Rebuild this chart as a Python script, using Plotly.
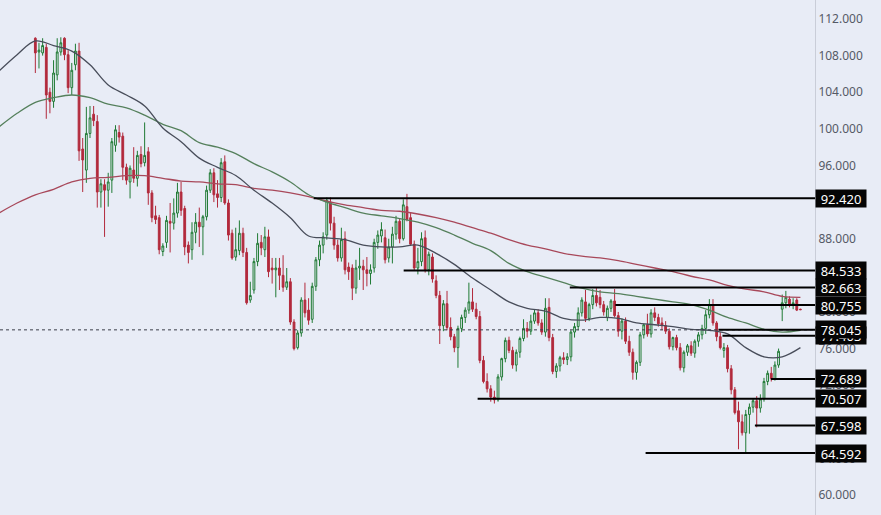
import plotly.graph_objects as go

# ---------------- candle data (price values) ----------------
opens = [109.9,108.4,108.3,108.9,104.0,103.0,105.9,108.4,109.9,108.1,104.5,107.0,108.5,97.8,95.5,99.5,101.6,100.8,93.1,93.9,
         93.3,94.4,98.2,99.6,99.2,95.8,94.2,95.5,94.6,97.2,96.3,97.5,93.0,90.5,90.3,86.6,87.6,89.9,89.7,90.8,
         93.1,91.3,87.3,86.8,88.7,89.8,89.3,90.4,93.3,95.2,92.9,92.5,96.4,91.9,88.6,86.0,86.7,88.6,86.5,81.3,
         82.4,85.5,87.6,86.8,88.2,84.8,84.6,84.8,84.0,82.7,83.3,78.9,76.1,77.7,81.3,80.2,79.2,82.8,85.7,87.3,
         88.4,92.0,89.7,87.3,85.9,88.0,84.9,84.8,82.6,84.8,85.0,84.6,84.2,84.8,87.6,88.3,88.1,85.9,87.1,88.5,
         89.9,88.0,91.5,90.3,87.4,84.8,85.5,88.1,84.6,86.0,83.4,81.8,78.5,80.9,78.3,77.3,76.1,78.2,79.4,80.2,
         81.1,80.3,79.5,74.7,72.4,71.6,70.7,70.4,72.9,74.9,76.9,75.8,74.2,75.6,77.1,78.2,77.9,79.0,79.9,78.8,
         77.8,80.5,77.2,73.5,74.1,75.0,74.8,75.1,77.8,78.4,79.9,81.1,79.3,80.8,81.8,81.6,80.8,79.4,80.4,81.2,
         79.6,77.9,79.0,76.8,75.6,73.4,74.5,77.5,78.6,77.6,79.9,79.4,78.8,78.5,77.9,76.2,77.2,76.1,73.9,75.6,
         76.3,75.5,76.8,77.5,78.2,79.7,80.8,78.8,77.3,75.8,76.1,73.8,71.5,69.2,68.0,66.8,68.8,69.6,70.3,69.5,
         70.5,72.4,73.3,72.7,74.2,80.3,81.0,81.4,80.8,81.3,80.3]
highs = [110.0,109.4,109.9,109.3,104.5,107.5,109.9,110.0,110.0,108.6,107.2,109.3,109.4,99.0,102.4,102.5,102.5,101.5,94.5,94.5,
         95.2,99.0,100.4,100.4,99.6,96.2,96.0,98.0,97.6,98.1,100.7,98.0,93.3,91.6,90.6,87.5,90.5,91.9,92.4,94.1,
         94.2,91.6,87.7,89.8,90.8,91.4,90.6,93.8,95.6,95.7,94.4,96.8,97.1,92.3,89.0,89.2,90.0,89.2,87.0,83.3,
         85.9,88.6,88.4,89.3,89.0,85.9,85.9,85.9,86.2,84.8,83.7,79.2,78.0,81.6,83.2,81.5,83.2,86.0,87.8,88.7,
         92.5,92.5,90.4,87.9,89.2,88.8,85.4,85.2,85.7,87.0,85.7,86.0,85.2,88.0,88.9,89.8,89.0,88.0,89.3,90.5,
         90.2,92.3,92.9,90.8,87.8,87.0,88.7,88.9,86.6,86.4,84.0,82.3,81.3,82.3,79.4,77.6,78.5,79.7,80.5,83.2,
         82.6,81.0,80.1,75.2,73.3,72.0,71.4,73.2,75.0,77.2,77.3,76.2,75.9,77.3,79.2,78.9,79.7,80.3,80.3,79.2,
         81.5,81.5,77.6,74.4,75.2,75.6,75.5,78.0,78.8,80.5,81.6,82.4,81.0,82.5,82.6,82.4,81.2,80.7,81.4,82.5,
         80.0,79.3,79.4,77.4,76.0,74.7,77.8,78.7,79.8,80.3,80.5,79.8,79.4,79.0,78.2,77.3,77.5,76.6,75.8,76.5,
         76.8,77.0,77.8,78.6,80.2,81.4,81.4,79.0,77.8,76.6,76.4,74.2,71.8,70.2,68.8,69.3,70.0,70.6,70.8,71.0,
         72.8,73.6,74.0,74.6,76.0,81.9,82.3,81.7,81.5,81.5,80.35]
lows = [106.1,106.6,108.0,101.1,101.7,102.3,105.3,108.0,107.5,103.9,103.7,106.4,96.5,93.1,94.1,99.0,100.3,91.4,91.4,88.2,
        91.5,93.0,97.5,98.5,94.4,93.9,92.4,94.1,93.7,95.8,95.9,91.7,89.8,89.6,86.3,86.1,87.0,86.5,89.0,90.3,
        90.5,86.2,85.3,85.7,87.5,87.1,86.2,90.0,93.0,92.0,91.4,92.0,91.7,87.8,85.7,85.6,86.2,86.0,80.8,81.0,
        82.0,85.0,86.2,86.0,83.8,83.1,81.6,82.4,82.2,82.4,78.6,75.8,75.9,77.3,79.4,78.6,78.8,82.3,85.0,86.4,
        87.9,88.9,86.8,85.5,85.5,84.1,83.5,81.3,82.0,83.5,82.4,82.8,83.0,84.3,86.9,87.6,85.3,85.4,85.3,87.9,
        87.5,87.8,89.9,87.2,84.5,84.1,85.0,84.3,84.0,83.2,81.5,76.5,77.9,78.0,76.9,75.6,73.9,77.8,78.8,79.8,
        80.0,79.2,74.4,72.2,71.2,70.2,70.0,70.2,72.5,74.5,75.5,73.8,73.5,75.0,76.8,77.2,77.5,78.7,78.5,77.5,
        77.3,76.8,73.2,72.8,73.5,74.3,74.2,74.6,77.2,78.0,79.5,78.9,79.0,80.3,80.6,80.4,79.6,79.0,80.0,79.4,
        77.3,77.0,76.5,75.2,72.6,72.6,74.1,77.1,77.3,77.2,79.0,78.4,78.0,77.6,75.9,75.8,75.8,73.6,73.4,75.2,
        75.2,75.0,76.2,77.0,77.6,79.3,78.5,76.8,75.9,75.0,73.4,71.0,68.8,65.0,66.5,64.6,66.7,69.0,67.4,69.0,
        70.2,72.0,72.4,72.5,73.9,79.0,80.4,80.5,80.3,80.1,80.2]
closes = [108.3,108.6,109.1,103.7,103.0,106.1,108.4,109.4,108.1,104.5,106.4,108.5,97.6,96.6,99.5,101.2,100.9,93.1,94.0,93.3,
          94.2,98.6,99.9,99.1,95.8,94.4,95.7,94.6,97.1,96.2,97.1,93.0,90.3,90.1,86.8,87.2,90.0,89.7,90.8,93.1,
          91.1,87.1,86.5,88.7,89.8,89.3,90.4,93.3,95.2,92.8,92.5,96.3,91.9,88.4,85.9,86.8,88.6,86.5,81.0,81.8,
          85.5,87.5,87.0,88.2,84.4,84.6,84.8,84.0,82.7,83.3,78.9,76.0,77.7,81.3,79.9,79.1,82.8,85.7,87.3,88.2,
          92.2,89.7,87.3,85.9,87.9,84.6,84.4,82.6,84.8,85.0,84.6,84.2,84.6,87.6,88.4,89.0,85.7,87.1,88.5,89.9,
          88.0,91.7,90.1,87.4,84.8,85.5,88.0,84.6,86.3,83.6,81.8,78.5,80.9,78.3,77.3,76.1,78.2,79.4,80.2,81.1,
          80.3,79.5,74.7,72.4,71.6,70.7,70.4,72.9,74.9,76.9,75.8,74.2,75.6,77.1,78.2,77.9,79.0,79.9,78.8,77.8,
          80.4,77.2,73.5,74.1,75.0,74.8,75.1,77.8,78.4,79.9,81.3,79.3,80.8,81.8,81.0,80.8,80.0,80.4,81.2,79.6,
          77.9,79.0,76.8,75.6,73.4,74.5,77.5,78.6,77.6,79.9,79.4,78.7,78.5,77.9,76.2,77.2,76.1,73.9,75.6,76.3,
          75.5,76.8,77.5,78.2,79.7,80.8,78.8,77.3,76.1,76.1,73.8,71.5,69.0,68.0,66.8,68.8,69.6,70.3,69.5,70.5,
          72.4,73.3,72.7,74.2,75.7,81.0,81.6,80.7,81.0,80.2,80.25]

# ---------------- moving averages (values read at every 5th bar) ----------------
ma_bars = list(range(-10, 211, 5))
ma_fast = [106.3,108.1,109.6,109.1,108.5,107.0,104.8,103.7,102.5,100.1,98.6,96.8,95.8,94.9,93.3,91.9,90.3,88.3,88.1,87.9,
           87.3,87.1,87.1,87.3,86.4,85.2,83.7,82.4,81.1,80.4,80.1,79.3,79.1,79.4,79.3,78.8,78.6,78.4,78.1,78.0,
           77.6,76.1,75.1,75.1,76.1]
ma_mid = [100.2,101.7,102.9,103.4,103.7,103.4,102.7,102.3,101.5,100.5,99.8,98.5,98.0,97.3,96.2,95.3,94.2,92.8,92.0,91.4,
          90.8,90.5,90.2,89.8,89.2,88.4,87.5,86.7,85.3,84.4,83.8,83.2,82.6,82.2,82.0,81.7,81.4,81.1,80.8,80.2,
          79.4,78.8,78.1,77.8,78.0]
ma_slow = [90.8,91.9,92.8,93.4,94.2,94.6,94.7,94.9,94.9,94.6,94.3,94.2,94.0,93.9,93.5,93.3,93.0,92.6,92.1,91.7,
           91.4,91.1,91.0,90.7,90.3,89.8,89.2,88.6,87.9,87.3,86.9,86.4,86.1,85.9,85.6,85.2,84.8,84.4,83.9,83.5,
           82.9,82.5,82.2,81.7,81.6]

# ---------------- horizontal levels ----------------
level_values = [92.420, 84.533, 82.663, 80.755, 78.045, 77.403, 72.689, 70.507, 67.598, 64.592]
level_start_bar = [76.4, 101.1, 146.7, 159.2, 187.5, 188.6, 201.9, 121.4, 197.5, 167.5]
last_price = 78.045
tick_values = list(range(60, 113, 4))

BG = "#e8ecf6"
X_MIN, X_MAX = -9.7, 214.0
Y_MIN, Y_MAX = 57.82, 114.076

fig = go.Figure()
fig.add_trace(go.Scatter(x=ma_bars, y=ma_slow, mode="lines", line=dict(color="#a8485a", width=1.3, shape="spline"), hoverinfo="skip"))
fig.add_trace(go.Scatter(x=ma_bars, y=ma_mid, mode="lines", line=dict(color="#55805c", width=1.3, shape="spline"), hoverinfo="skip"))
fig.add_trace(go.Scatter(x=ma_bars, y=ma_fast, mode="lines", line=dict(color="#484d5a", width=1.3, shape="spline"), hoverinfo="skip"))

fig.add_trace(go.Candlestick(
    x=list(range(len(closes))), open=opens, high=highs, low=lows, close=closes,
    increasing=dict(line=dict(color="#1f7a34", width=1), fillcolor=BG),
    decreasing=dict(line=dict(color="#b22a3c", width=1), fillcolor="#b22a3c"),
    whiskerwidth=0, hoverinfo="skip"))

shapes = [dict(type="line", xref="x", yref="y", x0=X_MIN, x1=X_MAX, y0=last_price, y1=last_price,
               line=dict(color="#3a3d48", width=1, dash="dot"))]
for v, s in zip(level_values, level_start_bar):
    shapes.append(dict(type="line", xref="x", yref="y", x0=s, x1=X_MAX, y0=v, y1=v,
                       line=dict(color="#000000", width=2)))

annotations = []
order = [5, 0, 1, 2, 3, 4, 6, 7, 8, 9]
for k in order:
    v = level_values[k]
    annotations.append(dict(xref="paper", yref="y", x=1, y=v, xanchor="left", yanchor="middle",
                            text=f"{v:.3f}", showarrow=False, xshift=0,
                            font=dict(family="Noto Sans", size=13, color="#ffffff"),
                            bgcolor="#050505", borderpad=1, width=48, height=15, align="center"))

fig.update_layout(
    width=881, height=515,
    margin=dict(l=0, r=66, t=0, b=0),
    paper_bgcolor=BG, plot_bgcolor=BG,
    showlegend=False,
    shapes=shapes, annotations=annotations,
    xaxis=dict(range=[X_MIN, X_MAX], visible=False, rangeslider=dict(visible=False), fixedrange=True),
    yaxis=dict(range=[Y_MIN, Y_MAX], side="right", tickvals=tick_values,
               ticktext=[f"{t:.3f}" for t in tick_values], showgrid=False, zeroline=False,
               showline=True, linecolor="#c9cdd8", linewidth=1, ticks="",
               tickfont=dict(family="Noto Sans", size=12, color="#555a66")),
)
fig.write_html("out.html", config={"displayModeBar": False},
               post_script="document.body.style.margin='0';document.body.style.overflow='hidden';")
